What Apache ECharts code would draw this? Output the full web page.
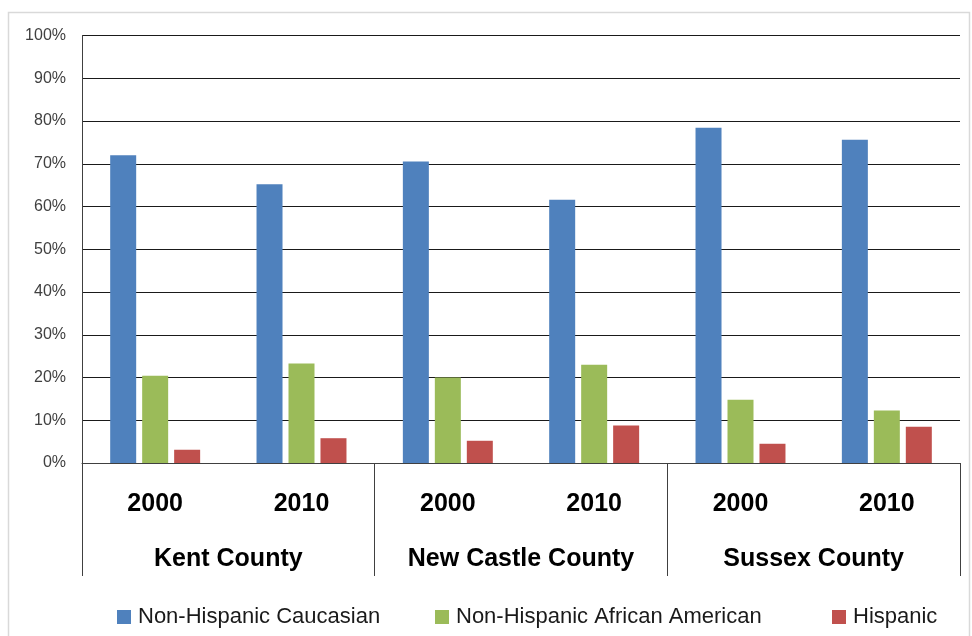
<!DOCTYPE html>
<html>
<head>
<meta charset="utf-8">
<script src="https://cdn.jsdelivr.net/npm/echarts@6/dist/echarts.min.js"></script>
<style>
html,body{margin:0;padding:0;background:#fff;}
#chart{width:972px;height:636px;}
</style>
</head>
<body>
<div id="chart"></div>
<script>
var years = ['2000', '2010', '2000', '2010', '2000', '2010'];
var counties = ['Kent County', 'New Castle County', 'Sussex County'];
var seriesNames = ['Non-Hispanic Caucasian', 'Non-Hispanic African American', 'Hispanic'];
var caucasian = [72.0, 65.2, 70.5, 61.6, 78.4, 75.6];
var african = [20.4, 23.3, 20.0, 23.0, 14.8, 12.3];
var hispanic = [3.1, 5.8, 5.2, 8.8, 4.5, 8.5];
var colors = ['#4F81BD', '#9BBB59', '#C0504D'];

var FONT = '"Liberation Sans", Arial, sans-serif';
var chart = echarts.init(document.getElementById('chart'), null, {renderer: 'canvas'});

function bar(name, data, color) {
  return {
    name: name, type: 'bar', xAxisIndex: 0, data: data,
    barWidth: 26, barGap: '23%',
    itemStyle: {color: color},
    emphasis: {disabled: true}
  };
}

var legendLefts = [112, 430, 827];
var legends = seriesNames.map(function (n, i) {
  return {
    left: legendLefts[i], top: 601,
    itemWidth: 14, itemHeight: 14,
    icon: 'rect',
    textStyle: {fontFamily: FONT, fontSize: 22, color: '#1a1a1a', padding: [0, 0, 0, 2]},
    data: [n]
  };
});

chart.setOption({
  animation: false,
  backgroundColor: '#fff',
  color: colors,
  graphic: [{
    type: 'rect', silent: true,
    shape: {x: 8.5, y: 12.5, width: 961, height: 640},
    style: {fill: 'none', stroke: '#d9d9d9', lineWidth: 1.5}
  }],
  grid: {left: 82, right: 12, top: 35.5, bottom: 173, containLabel: false},
  legend: legends,
  xAxis: [{
    type: 'category', data: years, position: 'bottom',
    axisLine: {show: true, lineStyle: {color: '#404040', width: 1}},
    axisTick: {show: false},
    axisLabel: {interval: 0, fontFamily: FONT, fontSize: 25, fontWeight: 'bold', color: '#000', margin: 29},
    splitLine: {show: false}
  }, {
    type: 'category', data: counties, position: 'bottom', offset: 0,
    axisLine: {show: false},
    axisTick: {show: true, interval: 0, length: 113, lineStyle: {color: '#404040', width: 1}},
    axisLabel: {interval: 0, fontFamily: FONT, fontSize: 25, fontWeight: 'bold', color: '#000', margin: 84},
    splitLine: {show: false}
  }],
  yAxis: {
    type: 'value', min: 0, max: 100, interval: 10,
    axisLine: {show: true, lineStyle: {color: '#404040', width: 1}},
    axisTick: {show: false},
    axisLabel: {fontFamily: FONT, fontSize: 16, color: '#404040', margin: 16, formatter: '{value}%'},
    splitLine: {show: true, lineStyle: {color: '#1a1a1a', width: 1}}
  },
  series: [
    bar(seriesNames[0], caucasian, colors[0]),
    bar(seriesNames[1], african, colors[1]),
    bar(seriesNames[2], hispanic, colors[2])
  ]
});
</script>
</body>
</html>
